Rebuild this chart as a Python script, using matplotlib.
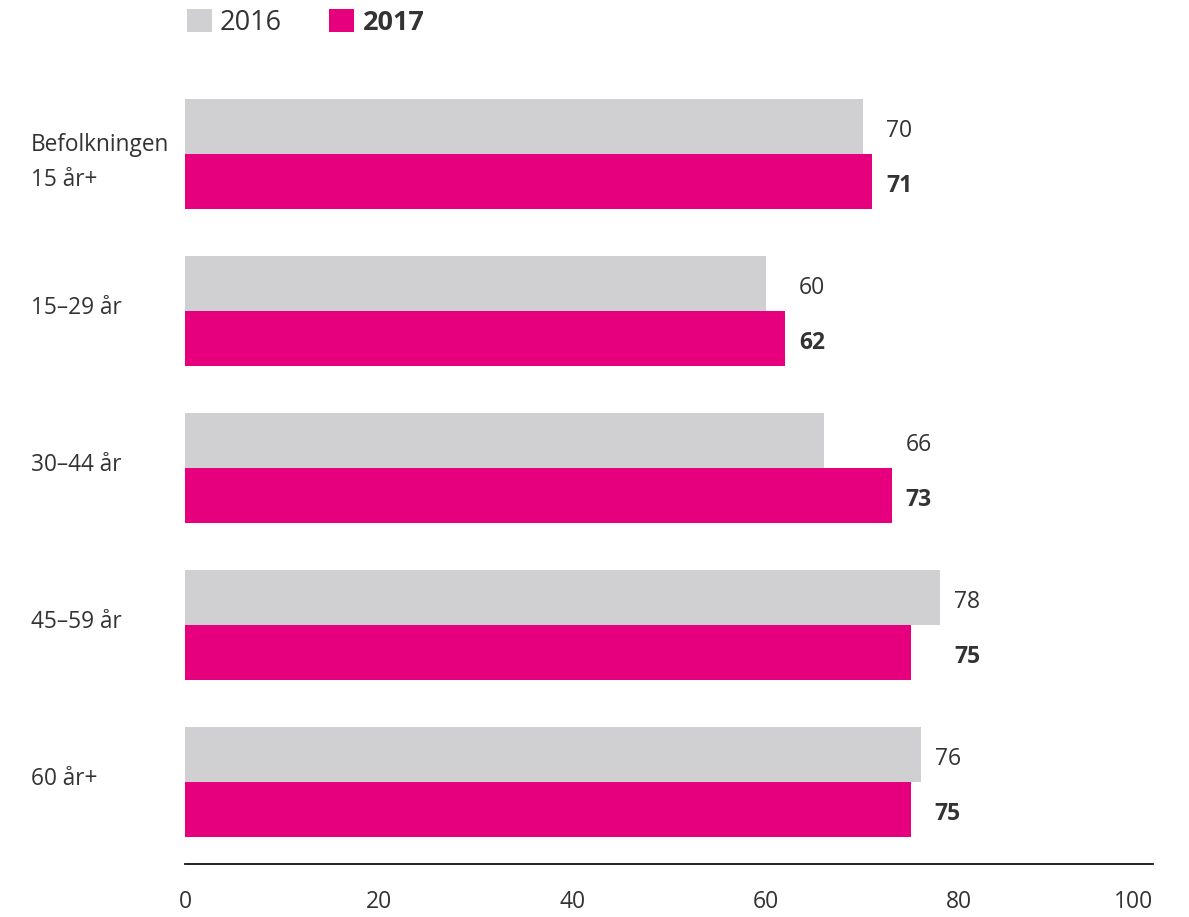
import matplotlib
matplotlib.use("Agg")
import matplotlib.pyplot as plt
import numpy as np

categories = ["Befolkningen\n15 år+", "15–29 år", "30–44 år", "45–59 år", "60 år+"]
values_2016 = [70, 60, 66, 78, 76]
values_2017 = [71, 62, 73, 75, 75]
series_names = ["2016", "2017"]
xticks = [0, 20, 40, 60, 80, 100]

GRAY = "#d0cfd1"
MAGENTA = "#e6007e"
TEXT = "#333333"
plt.rcParams["font.family"] = ["Open Sans", "DejaVu Sans"]

fig = plt.figure(figsize=(11.89, 9.17), dpi=100)
ax = fig.add_axes([185/1189, 1-864/917, (1153-185)/1189, (864-60)/917])

y = np.arange(len(categories))
h = 0.35
b1 = ax.barh(y - h/2, values_2016, height=h, color=GRAY, label=series_names[0])
b2 = ax.barh(y + h/2, values_2017, height=h, color=MAGENTA, label=series_names[1])

ax.set_xlim(0, 100)
ax.set_ylim(4 + 82/157, -94/157)

for i in range(len(categories)):
    xm = max(values_2016[i], values_2017[i]) + 1.45
    ax.text(xm, y[i] - h/2 + 0.03, str(values_2016[i]), ha="left", va="center",
            fontsize=16.5, color=TEXT)
    ax.text(xm, y[i] + h/2 + 0.03, str(values_2017[i]), ha="left", va="center",
            fontsize=16.5, color=TEXT, fontweight="bold")
    dy = 0.055 if "\n" in categories[i] else -0.02
    ax.text(-15.95, y[i] + dy, categories[i], ha="left", va="center",
            fontsize=16.3, color=TEXT, linespacing=1.6)

for s in ["top", "right", "left"]:
    ax.spines[s].set_visible(False)
ax.spines["bottom"].set_color("#111111")
ax.spines["bottom"].set_linewidth(1.3)
ax.set_yticks([])
ax.set_xticks(xticks)
ax.set_xticklabels([str(t) for t in xticks], fontsize=16.5, color=TEXT)
ax.tick_params(axis="x", length=0, pad=19)
ax.get_xticklabels()[-1].set_ha("right")
ax.get_xticklabels()[-1].set_x(100)

leg = fig.legend(handles=[b1, b2], labels=series_names, loc="upper left",
                 bbox_to_anchor=(168/1189, 1 + 10/917), ncol=2, frameon=False,
                 fontsize=19.5, handlelength=0.92, handleheight=0.92,
                 handletextpad=0.3, columnspacing=1.75, borderaxespad=0.3)
for t in leg.get_texts():
    t.set_color(TEXT)
leg.get_texts()[1].set_fontweight("bold")

fig.savefig("out.png", dpi=100)
